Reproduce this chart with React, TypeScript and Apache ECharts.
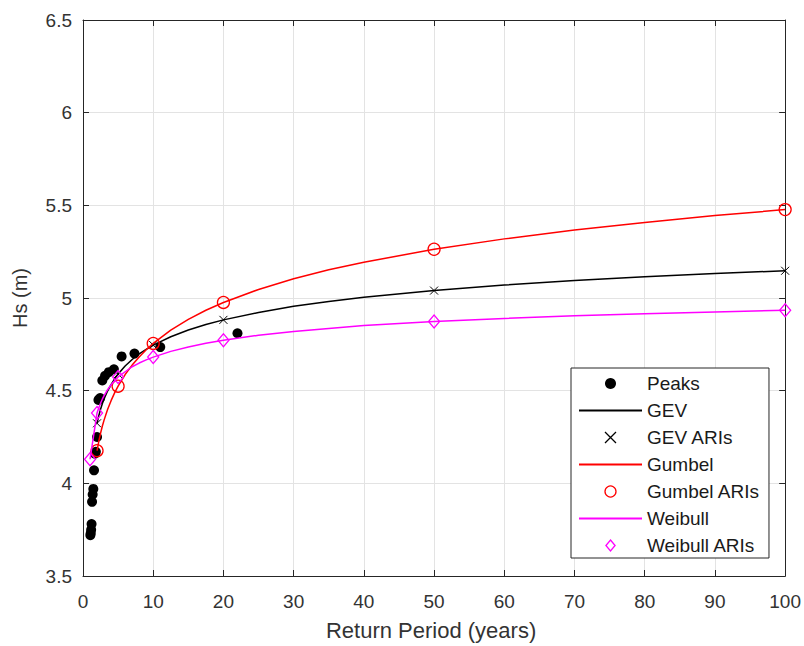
import React, { useEffect, useRef } from "react";
import * as echarts from "echarts";

// Observed peaks (return period in years, Hs in m)
const peakT = [22, 11, 7.33, 5.5, 4.4, 3.67, 3.14, 2.75, 2.44, 2.2, 2.0, 1.83, 1.69, 1.57, 1.47, 1.375, 1.29, 1.22, 1.16, 1.1, 1.05];
const peakHs = [4.81, 4.735, 4.70, 4.685, 4.615, 4.60, 4.58, 4.555, 4.46, 4.45, 4.25, 4.17, 4.16, 4.07, 3.97, 3.94, 3.90, 3.78, 3.75, 3.73, 3.72];

// Fitted curves
const curveT = [2, 2.25, 2.5, 2.75, 3, 3.5, 4, 4.5, 5, 6, 7, 8, 9, 10, 12.5, 15, 17.5, 20, 25, 30, 35, 40, 50, 60, 70, 80, 90, 100];
const gevHs = [4.324, 4.365, 4.400, 4.429, 4.455, 4.498, 4.533, 4.564, 4.590, 4.633, 4.668, 4.698, 4.723, 4.746, 4.791, 4.827, 4.857, 4.882, 4.922, 4.955, 4.981, 5.004, 5.040, 5.070, 5.094, 5.114, 5.132, 5.147];
const gumbelHs = [4.176, 4.227, 4.270, 4.308, 4.341, 4.398, 4.446, 4.488, 4.524, 4.587, 4.638, 4.682, 4.721, 4.755, 4.827, 4.885, 4.934, 4.976, 5.046, 5.104, 5.152, 5.193, 5.263, 5.319, 5.367, 5.408, 5.445, 5.477];
const weibullT = [1, 1.25, 1.5, 2, 2.25, 2.5, 2.75, 3, 3.5, 4, 4.5, 5, 6, 7, 8, 9, 10, 12.5, 15, 17.5, 20, 25, 30, 35, 40, 50, 60, 70, 80, 90, 100];
const weibullHs = [4.13, 4.192, 4.255, 4.38, 4.408, 4.432, 4.454, 4.473, 4.505, 4.532, 4.554, 4.574, 4.602, 4.629, 4.649, 4.666, 4.681, 4.712, 4.736, 4.756, 4.772, 4.799, 4.819, 4.836, 4.851, 4.873, 4.890, 4.904, 4.915, 4.925, 4.934];

// Return-level markers (ARIs)
const ariT = [2, 5, 10, 20, 50, 100];
const gevAri = [4.324, 4.590, 4.746, 4.882, 5.040, 5.147];
const gumbelAri = [4.176, 4.524, 4.755, 4.976, 5.263, 5.477];
const weibullAriT = [1, 2, 5, 10, 20, 50, 100];
const weibullAri = [4.13, 4.38, 4.574, 4.681, 4.772, 4.873, 4.934];

const xTicks = { min: 0, max: 100, interval: 10 };
const yTicks = { min: 3.5, max: 6.5, interval: 0.5 };

const lineNames = ["GEV", "Gumbel", "Weibull"];
const seriesNames = ["Peaks", "GEV", "GEV ARIs", "Gumbel", "Gumbel ARIs", "Weibull", "Weibull ARIs"];

const pairs = (xs: number[], ys: number[]) => xs.map((x, i) => [x, ys[i]]);

const FONT = "'Liberation Sans', Arial, Helvetica, sans-serif";
const AX = "#262626";
const GRID = "#e3e3e3";
const CROSS = "path://M0,0L10,10M10,0L0,10";
const DIAMOND = "path://M5,0L10,6L5,12L0,6Z";

export default function App() {
  const ref = useRef<HTMLDivElement>(null);
  useEffect(() => {
    if (!ref.current) return;
    const chart = echarts.init(ref.current, undefined, { renderer: "svg" });
    const axisCommon = {
      type: "value" as const,
      axisLine: { show: true, onZero: false, lineStyle: { color: AX, width: 1 } },
      axisTick: { show: true, inside: true, length: 6, lineStyle: { color: AX } },
    };
    chart.setOption({
      animation: false,
      backgroundColor: "#ffffff",
      textStyle: { fontFamily: FONT },
      grid: { left: 83, right: 15, top: 20, bottom: 69, containLabel: false },
      xAxis: [
        {
          ...axisCommon,
          ...xTicks,
          position: "bottom",
          splitLine: { show: true, lineStyle: { color: GRID, width: 1 } },
          axisLabel: { margin: 16, fontSize: 19, color: "#333", fontFamily: FONT },
          name: "Return Period (years)",
          nameLocation: "middle",
          nameGap: 43,
          nameTextStyle: { fontSize: 22, color: "#333", fontFamily: FONT, padding: [0, 6, 0, 0] },
        },
        {
          ...axisCommon,
          ...xTicks,
          position: "top",
          splitLine: { show: false },
          axisLabel: { show: false },
        },
      ],
      yAxis: [
        {
          ...axisCommon,
          ...yTicks,
          position: "left",
          splitLine: { show: true, lineStyle: { color: GRID, width: 1 } },
          axisLabel: { margin: 11, fontSize: 19, color: "#333", fontFamily: FONT },
          name: "Hs (m)",
          nameLocation: "middle",
          nameGap: 53,
          nameTextStyle: { fontSize: 20, color: "#333", fontFamily: FONT },
        },
        {
          ...axisCommon,
          ...yTicks,
          position: "right",
          splitLine: { show: false },
          axisLabel: { show: false },
        },
      ],
      legend: {
        orient: "vertical",
        left: 571,
        top: 368,
        data: seriesNames.map((n) =>
          lineNames.includes(n)
            ? { name: n, itemStyle: { color: "rgba(0,0,0,0)", borderWidth: 0, opacity: 0 } }
            : { name: n }
        ),
        itemWidth: 63,
        itemHeight: 11,
        itemGap: 8,
        padding: [6, 9, 3, 7],
        backgroundColor: "#ffffff",
        borderColor: AX,
        borderWidth: 1,
        borderRadius: 0,
        symbolKeepAspect: true,
        itemStyle: { borderWidth: 1.3 },
        textStyle: { fontSize: 19, lineHeight: 19, color: "#1a1a1a", fontFamily: FONT },
        selectedMode: false,
      },
      series: [
        {
          name: "Peaks",
          type: "scatter",
          data: pairs(peakT, peakHs),
          symbol: "circle",
          symbolSize: 10,
          itemStyle: { color: "#000000", opacity: 1 },
          z: 2,
        },
        {
          name: "GEV",
          type: "line",
          data: pairs(curveT, gevHs),
          symbol: "none",
          lineStyle: { color: "#000000", width: 1.5 },
          itemStyle: { color: "#000000" },
          z: 3,
        },
        {
          name: "GEV ARIs",
          type: "scatter",
          data: pairs(ariT, gevAri),
          symbol: CROSS,
          symbolSize: 8,
          itemStyle: { color: "rgba(0,0,0,0)", borderColor: "#000000", borderWidth: 1, opacity: 1 },
          z: 4,
        },
        {
          name: "Gumbel",
          type: "line",
          data: pairs(curveT, gumbelHs),
          symbol: "none",
          lineStyle: { color: "#ff0000", width: 1.5 },
          itemStyle: { color: "#ff0000" },
          z: 5,
        },
        {
          name: "Gumbel ARIs",
          type: "scatter",
          data: pairs(ariT, gumbelAri),
          symbol: "circle",
          symbolSize: 12,
          itemStyle: { color: "rgba(0,0,0,0)", borderColor: "#ff0000", borderWidth: 1.3, opacity: 1 },
          z: 6,
        },
        {
          name: "Weibull",
          type: "line",
          data: pairs(weibullT, weibullHs),
          symbol: "none",
          lineStyle: { color: "#ff00ff", width: 1.5 },
          itemStyle: { color: "#ff00ff" },
          z: 7,
        },
        {
          name: "Weibull ARIs",
          type: "scatter",
          data: pairs(weibullAriT, weibullAri),
          symbol: DIAMOND,
          symbolSize: [11, 13],
          itemStyle: { color: "rgba(0,0,0,0)", borderColor: "#ff00ff", borderWidth: 1.3, opacity: 1 },
          z: 8,
        },
      ],
    });
    return () => chart.dispose();
  }, []);
  return (
    <div
      ref={ref}
      style={{ position: "absolute", left: 0, top: 0, width: 804, height: 646, background: "#fff" }}
    />
  );
}
